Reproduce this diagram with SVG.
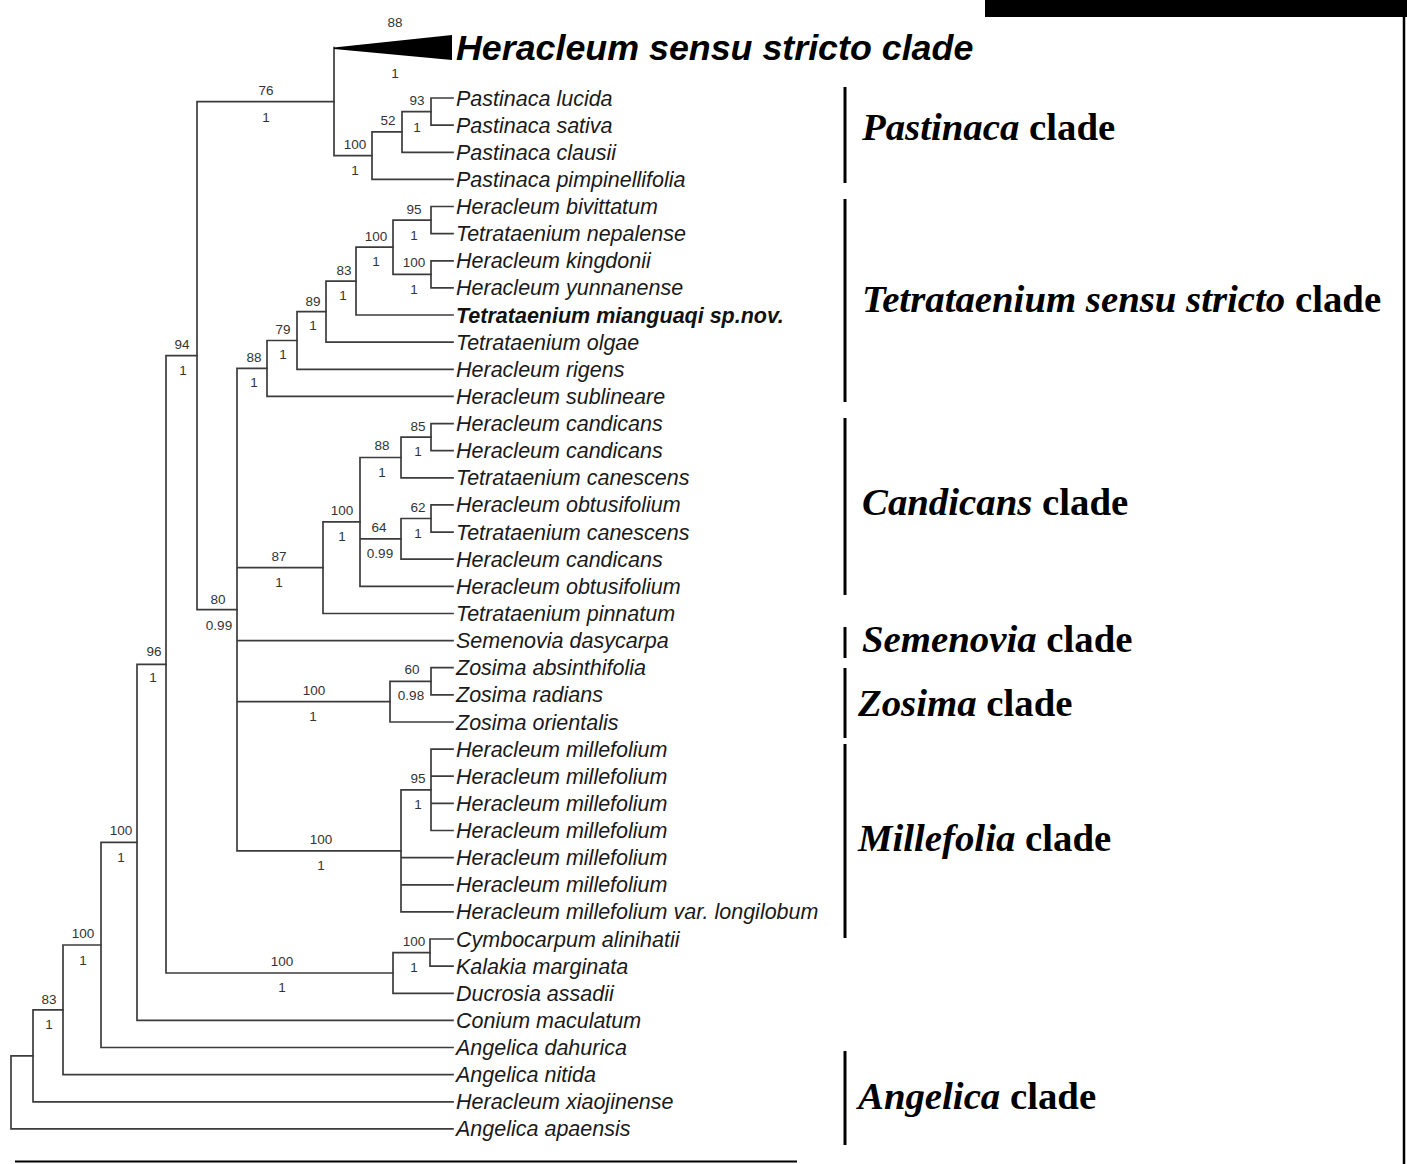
<svg xmlns="http://www.w3.org/2000/svg" width="1407" height="1164" viewBox="0 0 1407 1164">
<style>
.br{fill:none;stroke:#3c3c3c;stroke-width:1.7;stroke-linecap:square}
.tx{font-family:"Liberation Sans",Arial,sans-serif;font-style:italic;font-size:21.5px;fill:#1a1a1a}
.txb{font-family:"Liberation Sans",Arial,sans-serif;font-style:italic;font-weight:bold;font-size:21.5px;fill:#111}
.sp{font-family:"Liberation Sans",Arial,sans-serif;font-size:13.5px;fill:#333;text-anchor:middle}
.cl{font-family:"Liberation Serif","Times New Roman",serif;font-weight:bold;font-size:38.8px;fill:#000}
.bar{stroke:#000;stroke-width:3}
</style>
<rect width="1407" height="1164" fill="#fff"/>
<rect x="985" y="0" width="422" height="17" fill="#000"/>
<line x1="1404" y1="16" x2="1404" y2="1164" stroke="#000" stroke-width="2.5"/>
<line x1="15" y1="1161.5" x2="797" y2="1161.5" stroke="#000" stroke-width="2"/>

<g id="connectors">
<path class="br" d="M11 1055.8V1128.9 M11 1055.8H33 M11 1128.9H453"/>
<path class="br" d="M33 1009.9V1101.8 M33 1009.9H63 M33 1101.8H453"/>
<path class="br" d="M63 945V1074.7 M63 945H101 M63 1074.7H453"/>
<path class="br" d="M101 842.4V1047.5 M101 842.4H137 M101 1047.5H453"/>
<path class="br" d="M137 664.3V1020.4 M137 664.3H166 M137 1020.4H453"/>
<path class="br" d="M166 355.6V973 M166 355.6H197 M166 973H393"/>
<path class="br" d="M393 952.6V993.3 M393 952.6H430 M393 993.3H453"/>
<path class="br" d="M430 939V966.1 M430 939H453 M430 966.1H453"/>
<path class="br" d="M197 101.6V609.6 M197 101.6H334 M197 609.6H237"/>
<path class="br" d="M334 47.5V155.7 M334 155.7H372"/>
<path class="br" d="M372 131.9V179.4 M372 131.9H402 M372 179.4H453"/>
<path class="br" d="M402 111.6V152.3 M402 111.6H431 M402 152.3H453"/>
<path class="br" d="M431 98V125.1 M431 98H453 M431 125.1H453"/>
<path class="br" d="M237 368.4V850.9 M237 368.4H267 M237 567.7H323 M237 640.6H453 M237 701.6H390 M237 850.9H401"/>
<path class="br" d="M267 340.5V396.4 M267 340.5H297 M267 396.4H453"/>
<path class="br" d="M297 311.6V369.3 M297 311.6H326 M297 369.3H453"/>
<path class="br" d="M326 281.1V342.2 M326 281.1H356 M326 342.2H453"/>
<path class="br" d="M356 247.2V315 M356 247.2H393 M356 315H453"/>
<path class="br" d="M393 220.1V274.4 M393 220.1H431 M393 274.4H431"/>
<path class="br" d="M431 206.5V233.7 M431 206.5H453 M431 233.7H453"/>
<path class="br" d="M431 260.8V287.9 M431 260.8H453 M431 287.9H453"/>
<path class="br" d="M323 521.9V613.5 M323 521.9H360 M323 613.5H453"/>
<path class="br" d="M360 457.5V586.3 M360 457.5H401 M360 538.8H401 M360 586.3H453"/>
<path class="br" d="M401 437.1V477.8 M401 437.1H431 M401 477.8H453"/>
<path class="br" d="M431 423.6V450.7 M431 423.6H453 M431 450.7H453"/>
<path class="br" d="M401 518.5V559.2 M401 518.5H431 M401 559.2H453"/>
<path class="br" d="M431 504.9V532.1 M431 504.9H453 M431 532.1H453"/>
<path class="br" d="M390 681.3V722 M390 681.3H431 M390 722H453"/>
<path class="br" d="M431 667.7V694.8 M431 667.7H453 M431 694.8H453"/>
<path class="br" d="M401 789.8V911.9 M401 789.8H431 M401 857.6H453 M401 884.8H453 M401 911.9H453"/>
<path class="br" d="M431 749.1V830.5 M431 749.1H453 M431 776.2H453 M431 803.4H453 M431 830.5H453"/>
</g>

<g id="support">
<text class="sp" x="395" y="27">88</text><text class="sp" x="395" y="78">1</text>
<text class="sp" x="266" y="95">76</text><text class="sp" x="266" y="122">1</text>
<text class="sp" x="355" y="149">100</text><text class="sp" x="355" y="175">1</text>
<text class="sp" x="388" y="125">52</text>
<text class="sp" x="417" y="105">93</text><text class="sp" x="417" y="132">1</text>
<text class="sp" x="182" y="349">94</text><text class="sp" x="183" y="375">1</text>
<text class="sp" x="154" y="656">96</text><text class="sp" x="153" y="682">1</text>
<text class="sp" x="121" y="835">100</text><text class="sp" x="121" y="862">1</text>
<text class="sp" x="83" y="938">100</text><text class="sp" x="83" y="965">1</text>
<text class="sp" x="49" y="1004">83</text><text class="sp" x="49" y="1029">1</text>
<text class="sp" x="282" y="966">100</text><text class="sp" x="282" y="992">1</text>
<text class="sp" x="414" y="946">100</text><text class="sp" x="414" y="972">1</text>
<text class="sp" x="218" y="604">80</text><text class="sp" x="219" y="630">0.99</text>
<text class="sp" x="254" y="362">88</text><text class="sp" x="254" y="387">1</text>
<text class="sp" x="283" y="334">79</text><text class="sp" x="283" y="359">1</text>
<text class="sp" x="313" y="306">89</text><text class="sp" x="313" y="330">1</text>
<text class="sp" x="344" y="275">83</text><text class="sp" x="343" y="300">1</text>
<text class="sp" x="376" y="241">100</text><text class="sp" x="376" y="266">1</text>
<text class="sp" x="414" y="214">95</text><text class="sp" x="414" y="240">1</text>
<text class="sp" x="414" y="267">100</text><text class="sp" x="414" y="294">1</text>
<text class="sp" x="418" y="431">85</text><text class="sp" x="418" y="456">1</text>
<text class="sp" x="382" y="450">88</text><text class="sp" x="382" y="477">1</text>
<text class="sp" x="418" y="512">62</text><text class="sp" x="418" y="538">1</text>
<text class="sp" x="379" y="532">64</text><text class="sp" x="380" y="558">0.99</text>
<text class="sp" x="342" y="515">100</text><text class="sp" x="342" y="541">1</text>
<text class="sp" x="279" y="561">87</text><text class="sp" x="279" y="587">1</text>
<text class="sp" x="412" y="674">60</text><text class="sp" x="411" y="700">0.98</text>
<text class="sp" x="314" y="695">100</text><text class="sp" x="313" y="721">1</text>
<text class="sp" x="418" y="783">95</text><text class="sp" x="418" y="809">1</text>
<text class="sp" x="321" y="844">100</text><text class="sp" x="321" y="870">1</text>
</g>

<g id="heracleum-ss">
<polygon points="334,47.5 452,35 452,60 334,49" fill="#000"/>
<text x="456" y="60" font-family="Liberation Sans, Arial, sans-serif" font-style="italic" font-weight="bold" font-size="35.8" fill="#000">Heracleum sensu stricto clade</text>
</g>

<g id="tips">
<text class="tx" x="456" y="105.5">Pastinaca lucida</text>
<text class="tx" x="456" y="132.6">Pastinaca sativa</text>
<text class="tx" x="456" y="159.8">Pastinaca clausii</text>
<text class="tx" x="456" y="186.9">Pastinaca pimpinellifolia</text>
<text class="tx" x="456" y="214">Heracleum bivittatum</text>
<text class="tx" x="456" y="241.2">Tetrataenium nepalense</text>
<text class="tx" x="456" y="268.3">Heracleum kingdonii</text>
<text class="tx" x="456" y="295.4">Heracleum yunnanense</text>
<text class="txb" x="456" y="322.5">Tetrataenium mianguaqi sp.nov.</text>
<text class="tx" x="456" y="349.7">Tetrataenium olgae</text>
<text class="tx" x="456" y="376.8">Heracleum rigens</text>
<text class="tx" x="456" y="403.9">Heracleum sublineare</text>
<text class="tx" x="456" y="431.1">Heracleum candicans</text>
<text class="tx" x="456" y="458.2">Heracleum candicans</text>
<text class="tx" x="456" y="485.3">Tetrataenium canescens</text>
<text class="tx" x="456" y="512.4">Heracleum obtusifolium</text>
<text class="tx" x="456" y="539.6">Tetrataenium canescens</text>
<text class="tx" x="456" y="566.7">Heracleum candicans</text>
<text class="tx" x="456" y="593.8">Heracleum obtusifolium</text>
<text class="tx" x="456" y="621">Tetrataenium pinnatum</text>
<text class="tx" x="456" y="648.1">Semenovia dasycarpa</text>
<text class="tx" x="456" y="675.2">Zosima absinthifolia</text>
<text class="tx" x="456" y="702.3">Zosima radians</text>
<text class="tx" x="456" y="729.5">Zosima orientalis</text>
<text class="tx" x="456" y="756.6">Heracleum millefolium</text>
<text class="tx" x="456" y="783.7">Heracleum millefolium</text>
<text class="tx" x="456" y="810.9">Heracleum millefolium</text>
<text class="tx" x="456" y="838">Heracleum millefolium</text>
<text class="tx" x="456" y="865.1">Heracleum millefolium</text>
<text class="tx" x="456" y="892.3">Heracleum millefolium</text>
<text class="tx" x="456" y="919.4">Heracleum millefolium var. longilobum</text>
<text class="tx" x="456" y="946.5">Cymbocarpum alinihatii</text>
<text class="tx" x="456" y="973.6">Kalakia marginata</text>
<text class="tx" x="456" y="1000.8">Ducrosia assadii</text>
<text class="tx" x="456" y="1027.9">Conium maculatum</text>
<text class="tx" x="456" y="1055">Angelica dahurica</text>
<text class="tx" x="456" y="1082.2">Angelica nitida</text>
<text class="tx" x="456" y="1109.3">Heracleum xiaojinense</text>
<text class="tx" x="456" y="1136.4">Angelica apaensis</text>
</g>

<g id="clade-pastinaca">
<line class="bar" x1="845" y1="87" x2="845" y2="183"/>
<text class="cl" x="862" y="140"><tspan font-style="italic">Pastinaca</tspan> clade</text>
</g>
<g id="clade-tetrataenium">
<line class="bar" x1="845" y1="199" x2="845" y2="402"/>
<text class="cl" x="862" y="312"><tspan font-style="italic">Tetrataenium sensu stricto</tspan> clade</text>
</g>
<g id="clade-candicans">
<line class="bar" x1="845" y1="418" x2="845" y2="595"/>
<text class="cl" x="862" y="515"><tspan font-style="italic">Candicans</tspan> clade</text>
</g>
<g id="clade-semenovia">
<line class="bar" x1="845" y1="627" x2="845" y2="658"/>
<text class="cl" x="862" y="652"><tspan font-style="italic">Semenovia</tspan> clade</text>
</g>
<g id="clade-zosima">
<line class="bar" x1="845" y1="668" x2="845" y2="738"/>
<text class="cl" x="858" y="716"><tspan font-style="italic">Zosima</tspan> clade</text>
</g>
<g id="clade-millefolia">
<line class="bar" x1="845" y1="744" x2="845" y2="938"/>
<text class="cl" x="858" y="851"><tspan font-style="italic">Millefolia</tspan> clade</text>
</g>
<g id="clade-angelica">
<line class="bar" x1="845" y1="1051" x2="845" y2="1145"/>
<text class="cl" x="858" y="1109"><tspan font-style="italic">Angelica</tspan> clade</text>
</g>
</svg>
